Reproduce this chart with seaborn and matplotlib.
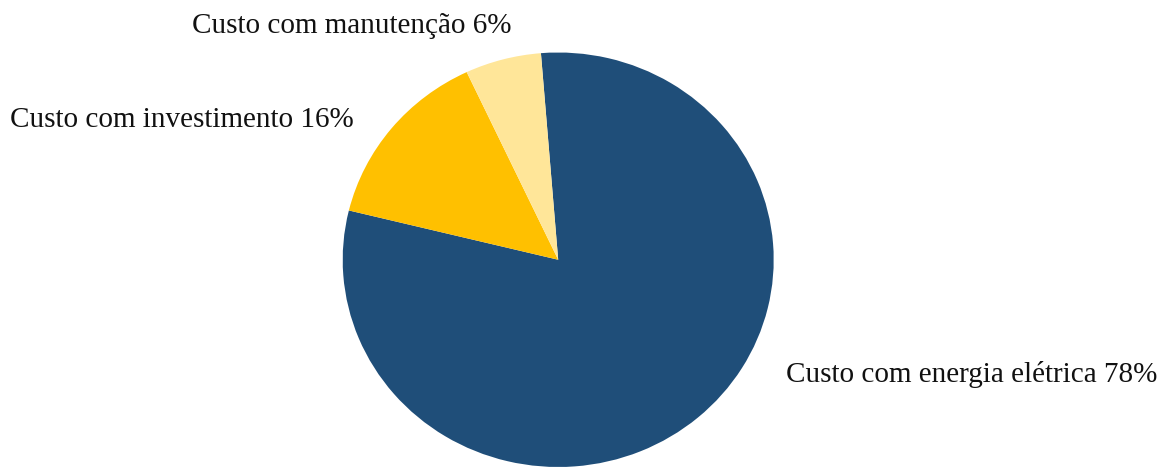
import matplotlib
matplotlib.use("Agg")
import matplotlib.pyplot as plt
import seaborn as sns

categories = ["Custo com energia elétrica", "Custo com investimento", "Custo com manutenção"]
# slice sizes as drawn in the picture (share of the circle, in %)
values = [80.1, 14.2, 5.7]
# percentages as printed in the labels
label_pct = ["78%", "16%", "6%"]
colors = ["#1F4E79", "#FFC000", "#FFE699"]

sns.set_theme(style="white")
plt.rcParams["font.family"] = ["Liberation Serif", "DejaVu Serif"]

W, H = 1168, 468
fig = plt.figure(figsize=(W / 100, H / 100), dpi=100)
ax = fig.add_axes([342.7 / W, (H - 467) / H, 431 / W, 414.5 / H])
ax.pie(values, colors=colors, startangle=94.6, counterclock=False,
       radius=1, wedgeprops=dict(linewidth=0))
ax.set_aspect("auto")
ax.set_xlim(-1, 1)
ax.set_ylim(-1, 1)
ax.axis("off")

label_pos = [(786, 381.7), (10.5, 126.7), (191.5, 32.7)]
for cat, pct, (x, y) in zip(categories, label_pct, label_pos):
    fig.text(x / W, 1 - y / H, f"{cat} {pct}", ha="left", va="baseline",
             fontsize=21, color="#111111")

fig.savefig("out.png", dpi=100)
